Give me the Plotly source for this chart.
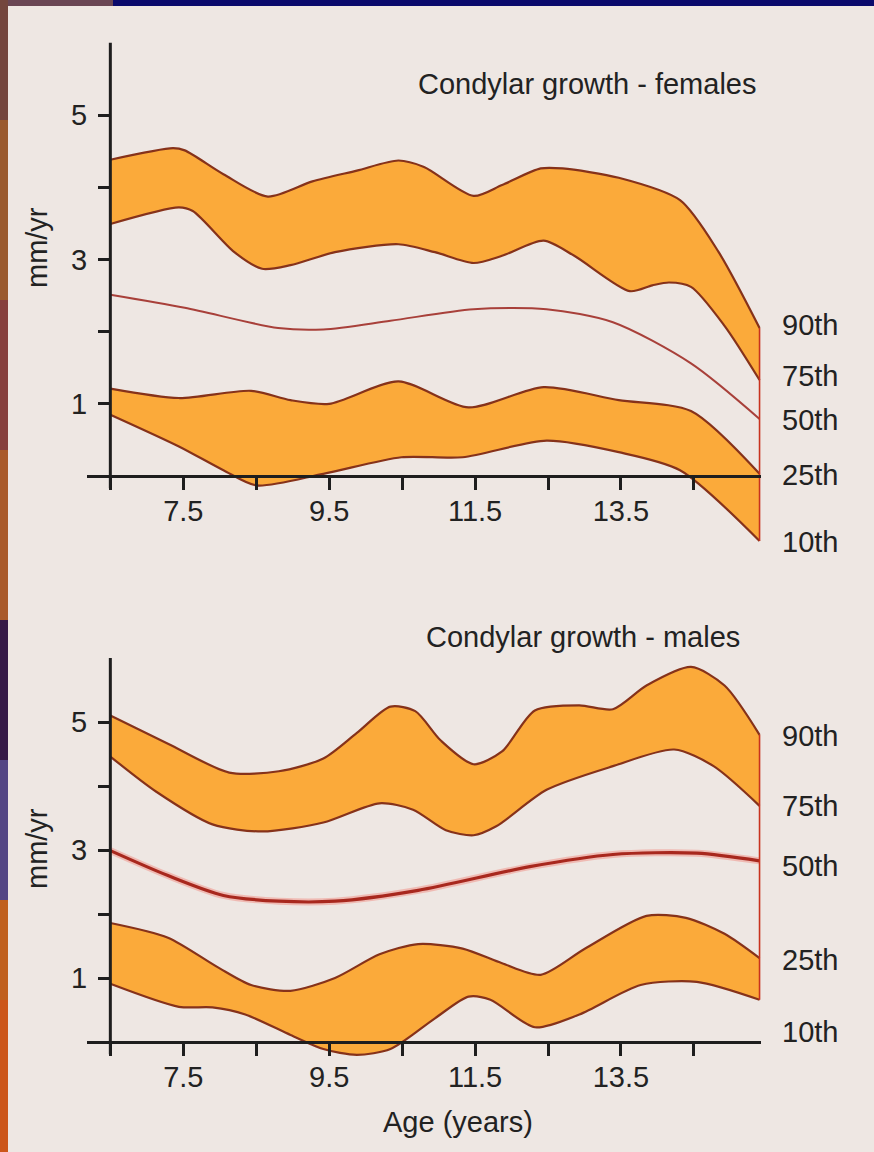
import plotly.graph_objects as go

# ---------------- data ----------------
# Females
f90_age = [6.5, 7.36, 7.52, 8.05, 8.66, 9.27, 9.88, 10.45, 10.8, 11.48, 11.87, 12.4, 12.7, 13.47, 14.31, 14.84, 15.4]
f90_val = [4.38, 4.54, 4.51, 4.18, 3.87, 4.08, 4.23, 4.37, 4.28, 3.88, 4.03, 4.26, 4.26, 4.13, 3.82, 3.10, 2.05]
f75_age = [6.5, 7.44, 7.63, 8.2, 8.58, 8.97, 9.58, 10.45, 10.95, 11.48, 11.87, 12.44, 12.86, 13.62, 13.93, 14.16, 14.46, 14.92, 15.4]
f75_val = [3.49, 3.72, 3.67, 3.10, 2.87, 2.92, 3.10, 3.21, 3.10, 2.95, 3.05, 3.26, 3.05, 2.56, 2.64, 2.68, 2.62, 2.08, 1.33]
f50_age = [6.5, 7.52, 8.8, 9.42, 10.34, 11.48, 12.48, 13.39, 14.46, 15.4]
f50_val = [2.51, 2.33, 2.05, 2.03, 2.15, 2.31, 2.31, 2.13, 1.56, 0.79]
f25_age = [6.5, 7.44, 8.43, 8.97, 9.5, 10.45, 11.41, 12.44, 13.47, 14.46, 15.4]
f25_val = [1.21, 1.08, 1.18, 1.05, 1.00, 1.31, 0.95, 1.23, 1.05, 0.90, 0.03]
f10_age = [6.5, 7.44, 8.05, 8.5, 9.42, 10.49, 11.33, 12.48, 13.47, 14.31, 15.4]
f10_val = [0.85, 0.41, 0.08, -0.13, 0.03, 0.26, 0.26, 0.49, 0.33, 0.08, -0.90]

# Males
m90_age = [6.5, 7.29, 8.13, 8.81, 9.42, 9.88, 10.34, 10.68, 11.03, 11.48, 11.87, 12.32, 12.93, 13.39, 13.85, 14.46, 14.92, 15.4]
m90_val = [5.10, 4.66, 4.21, 4.23, 4.43, 4.83, 5.24, 5.17, 4.71, 4.34, 4.54, 5.18, 5.26, 5.20, 5.57, 5.86, 5.57, 4.80]
m75_age = [6.5, 7.13, 7.9, 8.58, 9.42, 10.19, 10.65, 11.1, 11.48, 11.79, 12.48, 13.39, 14.23, 14.77, 15.4]
m75_val = [4.46, 3.91, 3.40, 3.29, 3.43, 3.73, 3.63, 3.31, 3.23, 3.37, 3.94, 4.31, 4.57, 4.31, 3.69]
m50_age = [6.5, 7.29, 8.05, 8.81, 9.58, 10.72, 12.25, 13.39, 14.54, 15.4]
m50_val = [2.99, 2.60, 2.29, 2.20, 2.20, 2.37, 2.74, 2.93, 2.95, 2.83]
m25_age = [6.5, 7.29, 7.97, 8.43, 8.97, 9.58, 10.19, 10.72, 11.33, 11.87, 12.4, 13.01, 13.85, 14.39, 14.92, 15.4]
m25_val = [1.86, 1.63, 1.17, 0.89, 0.80, 1.00, 1.37, 1.53, 1.46, 1.23, 1.05, 1.46, 1.97, 1.94, 1.69, 1.31]
m10_age = [6.5, 7.44, 7.9, 8.35, 8.97, 9.42, 9.88, 10.34, 10.95, 11.41, 11.71, 12.32, 12.93, 13.77, 14.54, 15.4]
m10_val = [0.91, 0.55, 0.54, 0.43, 0.11, -0.11, -0.20, -0.11, 0.37, 0.71, 0.66, 0.23, 0.43, 0.89, 0.94, 0.66]

x_tickvals = [6.5, 7.5, 8.5, 9.5, 10.5, 11.5, 12.5, 13.5, 14.5]
x_ticktext = ["", "7.5", "", "9.5", "", "11.5", "", "13.5", ""]
y_tickvals = [1, 2, 3, 4, 5]
y_ticktext = ["1", "", "3", "", "5"]
pct_labels = ["90th", "75th", "50th", "25th", "10th"]
titles = ["Condylar growth - females", "Condylar growth - males"]

# ---------------- styling / layout ----------------
W, H = 874, 1152
def px(p):
    return p / W
def py(p):
    return 1 - p / H

FILL = "#fbaa3a"
EDGE = "#86321a"
TXT = "#222222"
FONT = "Liberation Sans, Arial, sans-serif"
FS = 29

fig = go.Figure()

def band(lo_age, lo_val, hi_age, hi_val, xa, ya):
    fig.add_trace(go.Scatter(x=lo_age, y=lo_val, mode="lines", xaxis=xa, yaxis=ya,
                             line=dict(color=EDGE, width=2.2, shape="spline", smoothing=0.75),
                             hoverinfo="skip", showlegend=False))
    fig.add_trace(go.Scatter(x=hi_age, y=hi_val, mode="lines", xaxis=xa, yaxis=ya,
                             fill="tonexty", fillcolor=FILL,
                             line=dict(color=EDGE, width=2.2, shape="spline", smoothing=0.75),
                             hoverinfo="skip", showlegend=False))

def end_line(age, top, bottom, xa, ya):
    fig.add_trace(go.Scatter(x=[age, age], y=[top, bottom], mode="lines", xaxis=xa, yaxis=ya,
                             line=dict(color="#c8321e", width=1.6), hoverinfo="skip", showlegend=False))

# females
band(f75_age, f75_val, f90_age, f90_val, "x", "y")
band(f10_age, f10_val, f25_age, f25_val, "x", "y")
fig.add_trace(go.Scatter(x=f50_age, y=f50_val, mode="lines", xaxis="x", yaxis="y",
                         line=dict(color="#a8403a", width=2, shape="spline", smoothing=0.8),
                         hoverinfo="skip", showlegend=False))
end_line(f90_age[-1], f90_val[-1], f10_val[-1], "x", "y")

# males
band(m75_age, m75_val, m90_age, m90_val, "x2", "y2")
band(m10_age, m10_val, m25_age, m25_val, "x2", "y2")
fig.add_trace(go.Scatter(x=m50_age, y=m50_val, mode="lines", xaxis="x2", yaxis="y2",
                         line=dict(color="rgba(240,150,140,0.55)", width=7, shape="spline", smoothing=0.8),
                         hoverinfo="skip", showlegend=False))
fig.add_trace(go.Scatter(x=m50_age, y=m50_val, mode="lines", xaxis="x2", yaxis="y2",
                         line=dict(color="#a8281e", width=3.2, shape="spline", smoothing=0.8),
                         hoverinfo="skip", showlegend=False))
end_line(m90_age[-1], m90_val[-1], m10_val[-1], "x2", "y2")

# axes
f_unit, f_zero = 72.2, 476
m_unit, m_zero = 64.0, 1042
f_rng = [-1.2, 6.2]
m_rng = [-0.5, 6.2]

axis_common = dict(showgrid=False, zeroline=False, ticks="outside", tickwidth=3, ticklen=12,
                   tickcolor="#1e1e1e", tickfont=dict(family=FONT, size=FS, color=TXT))
xcommon = dict(axis_common, range=[6.18, 15.42], domain=[px(87), px(761)], anchor="free",
               tickvals=x_tickvals, ticktext=x_ticktext, showline=True, linecolor="#1e1e1e",
               linewidth=3, ticklabelstandoff=-4)
ycommon = dict(axis_common, anchor="free", position=px(110), tickvals=y_tickvals,
               ticktext=y_ticktext, showline=False, ticklabelstandoff=5)

fig.update_layout(
    xaxis=dict(xcommon, position=py(f_zero)),
    xaxis2=dict(xcommon, position=py(m_zero)),
    yaxis=dict(ycommon, range=f_rng,
               domain=[py(f_zero - f_rng[0] * f_unit), py(f_zero - f_rng[1] * f_unit)]),
    yaxis2=dict(ycommon, range=m_rng,
                domain=[py(m_zero - m_rng[0] * m_unit), py(m_zero - m_rng[1] * m_unit)]),
)

shapes = []
# slide background + photo frame
shapes.append(dict(type="rect", xref="paper", yref="paper", x0=0, x1=px(113), y0=py(6), y1=1,
                   fillcolor="#6a4654", line_width=0, layer="below"))
strip = [(0, 120, "#74463e"), (120, 300, "#9a5a2e"), (300, 450, "#86403e"), (450, 620, "#a95a2a"),
         (620, 760, "#361a48"), (760, 900, "#544684"), (900, 1000, "#c0601e"), (1000, 1152, "#cc561a")]
for a, b, c in strip:
    shapes.append(dict(type="rect", xref="paper", yref="paper", x0=0, x1=px(8), y0=py(b), y1=py(a),
                       fillcolor=c, line_width=0, layer="below"))
shapes.append(dict(type="rect", xref="paper", yref="paper", x0=px(8), x1=1, y0=0, y1=py(6),
                   fillcolor="#eee7e3", line_width=0, layer="below"))
# vertical axis lines (from y slightly below zero to 6)
shapes.append(dict(type="line", xref="x", yref="y", x0=6.5, x1=6.5, y0=-0.17, y1=6.0,
                   line=dict(color="#1e1e1e", width=3)))
shapes.append(dict(type="line", xref="x2", yref="y2", x0=6.5, x1=6.5, y0=-0.19, y1=6.0,
                   line=dict(color="#1e1e1e", width=3)))

ann = []
tf = dict(family=FONT, size=FS, color=TXT)
ann.append(dict(text=titles[0], xref="paper", yref="paper", x=px(758), y=py(84),
                xanchor="right", yanchor="middle", showarrow=False, font=tf))
ann.append(dict(text=titles[1], xref="paper", yref="paper", x=px(742), y=py(637),
                xanchor="right", yanchor="middle", showarrow=False, font=tf))
for yy in (248, 849):
    ann.append(dict(text="mm/yr", xref="paper", yref="paper", x=px(37), y=py(yy), textangle=-90,
                    xanchor="center", yanchor="middle", showarrow=False, font=tf))
ann.append(dict(text="Age (years)", xref="paper", yref="paper", x=px(458), y=py(1122),
                xanchor="center", yanchor="middle", showarrow=False, font=tf))
f_label_y = [2.09, 1.39, 0.78, 0.01, -0.91]
m_label_y = [4.78, 3.69, 2.75, 1.28, 0.16]
for lab, yy in zip(pct_labels, f_label_y):
    ann.append(dict(text=lab, xref="paper", yref="y", x=px(780), y=yy, xanchor="left",
                    yanchor="middle", showarrow=False, font=tf))
for lab, yy in zip(pct_labels, m_label_y):
    ann.append(dict(text=lab, xref="paper", yref="y2", x=px(780), y=yy, xanchor="left",
                    yanchor="middle", showarrow=False, font=tf))

fig.update_layout(width=W, height=H, margin=dict(l=0, r=0, t=0, b=0),
                  paper_bgcolor="#0a0a6c", plot_bgcolor="rgba(0,0,0,0)",
                  shapes=shapes, annotations=ann, showlegend=False)

fig.write_html("out.html")
